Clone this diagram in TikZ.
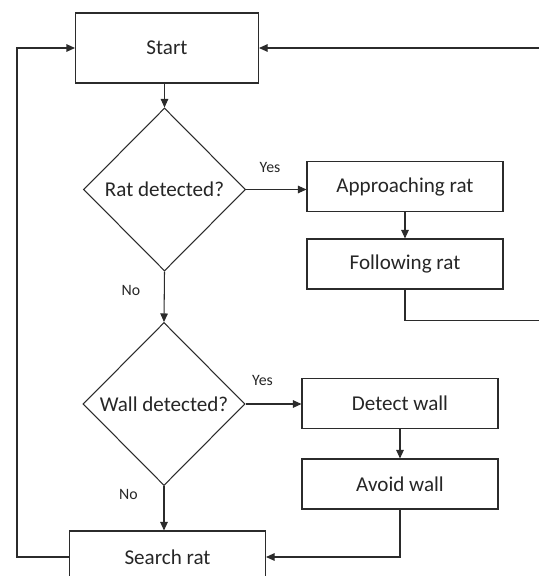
\documentclass[tikz,border=0pt]{standalone}
\usepackage{fontspec}
\setmainfont{Carlito}
\usepackage{tikz}
\usetikzlibrary{arrows.meta,shapes.geometric}
\usepackage{xcolor}
\definecolor{Ink}{HTML}{2B2B2B}
\definecolor{Txt}{HTML}{262626}
\tikzset{
  procbox/.style={draw=Ink, line width=0.6pt, minimum width=3.92cm,
    minimum height=1cm, align=center, text=Txt,
    font=\fontsize{12}{14}\selectfont},
  decision/.style={draw=Ink, line width=0.6pt, diamond, aspect=1, inner sep=0pt,
    minimum width=3.24cm, minimum height=3.26cm, text=Txt,
    font=\fontsize{12}{14}\selectfont},
  flowarr/.style={-{Triangle[length=0.17cm,width=0.15cm]}, line width=0.6pt, color=Ink},
  choice/.style={text=Txt, font=\fontsize{9}{11}\selectfont},
}

\begin{document}
\begin{tikzpicture}
  \useasboundingbox (0,0) rectangle (10.76,-11.52);
  % main column
  \node[procbox, minimum width=3.66cm, minimum height=1.4cm] (start) at (3.34,-0.96) {Start};
  \node[decision] (ratq) at (3.29,-3.79) {Rat detected?};
  \node[decision] (wallq) at (3.28,-8.08) {Wall detected?};
  \node[procbox, minimum height=1.04cm] (search) at (3.35,-11.14) {Search rat};
  % right column
  \node[procbox] (approach) at (8.1,-3.73) {Approaching rat};
  \node[procbox] (follow) at (8.1,-5.28) {Following rat};
  \node[procbox] (detect) at (8.0,-8.07) {Detect wall};
  \node[procbox] (avoid) at (8.0,-9.68) {Avoid wall};
  % turning points of the loops
  \coordinate (lft) at (0.34,-0.96);
  \coordinate (rgt) at (11.0,-6.41);
  % connectors
  \draw[flowarr] (ratq.north |- start.south) -- (ratq.north);
  \draw[flowarr] (ratq.east) -- (ratq.east -| approach.west);
  \draw[flowarr] (approach) -- (follow);
  \draw[flowarr] (ratq.south) -- (wallq.north);
  \draw[flowarr] (wallq.east) -- (wallq.east -| detect.west);
  \draw[flowarr] (detect) -- (avoid);
  \draw[flowarr] (wallq.south) -- (wallq.south |- search.north);
  \draw[flowarr] (avoid.south) |- (search.east);
  \draw[flowarr] (search.west) -| (lft) -- (start.west);
  \draw[flowarr] (follow.south) |- (rgt) |- (start.east);
  % branch labels
  \node[choice] (yes1) at (5.4,-3.35) {Yes};
  \node[choice] (no1) at (2.62,-5.8) {No};
  \node[choice] (yes2) at (5.25,-7.6) {Yes};
  \node[choice] (no2) at (2.57,-9.88) {No};
\end{tikzpicture}
\end{document}
